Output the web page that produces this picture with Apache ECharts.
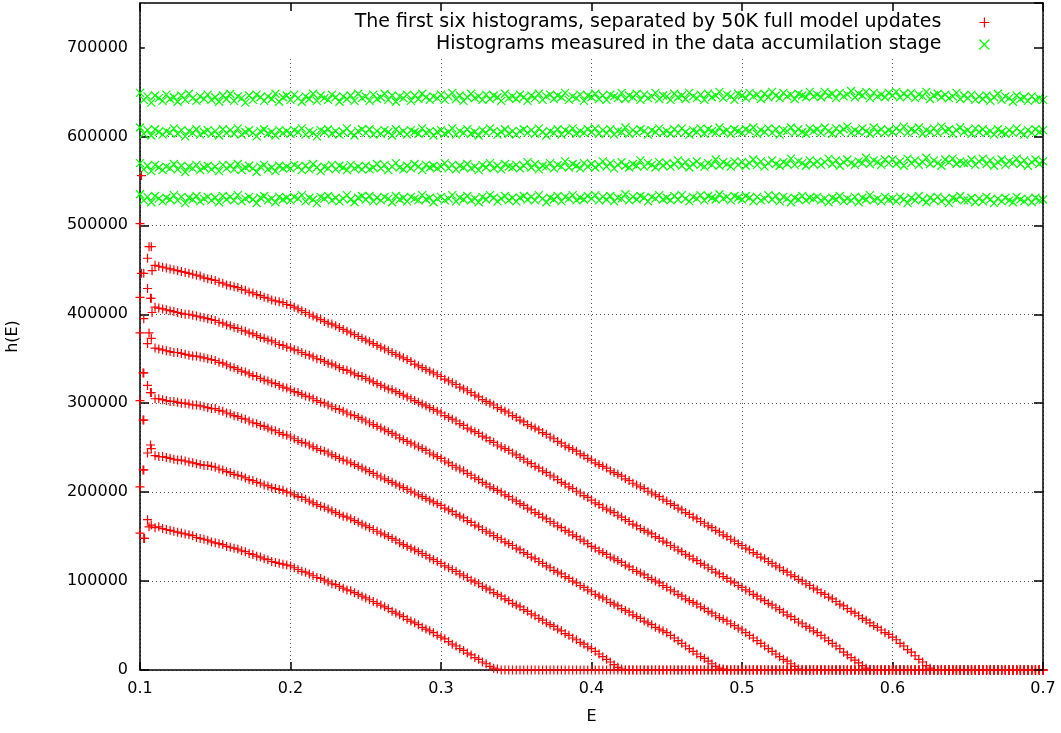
<!DOCTYPE html>
<html>
<head>
<meta charset="utf-8">
<script src="https://cdn.jsdelivr.net/npm/echarts@6/dist/echarts.min.js"></script>
<style>
html,body{margin:0;padding:0;background:#fff;}
#chart{width:1061px;height:733px;}
</style>
</head>
<body>
<div id="chart"></div>
<script>
// Histogram bins: E = E_START + i * E_STEP (i = 0..240), rows of 20 bins = 0.05 in E
const E_START = 0.1;
const E_STEP = 0.0025;

// Six early histograms (h in thousands)
const H1_K = [
154,148,169,163,160,161,159,158,157,156,155,154,153,152,151,149,148,147,146,144,
143,142,141,139,138,137,136,134,133,131,130,128,127,125,124,122,121,120,119,118,
117,115,113,111,110,108,106,104,103,101,99,97,96,94,92,90,89,87,85,83,
81,79,77,75,73,71,69,66,64,62,60,57,55,53,51,48,46,44,42,39,
37,35,32,29,27,24,22,19,17,14,12,9,7,4,2,1,0,0,0,0,
0,0,0,0,0,0,0,0,0,0,0,0,0,0,0,0,0,0,0,0,
0,0,0,0,0,0,0,0,0,0,0,0,0,0,0,0,0,0,0,0,
0,0,0,0,0,0,0,0,0,0,0,0,0,0,0,0,0,0,0,0,
0,0,0,0,0,0,0,0,0,0,0,0,0,0,0,0,0,0,0,0,
0,0,0,0,0,0,0,0,0,0,0,0,0,0,0,0,0,0,0,0,
0,0,0,0,0,0,0,0,0,0,0,0,0,0,0,0,0,0,0,0,
0,0,0,0,0,0,0,0,0,0,0,0,0,0,0,0,0,0,0,0,
0];
const H2_K = [
206,225,244,249,241,240,240,239,238,237,236,236,235,234,233,232,231,230,230,229,
228,226,225,223,222,220,219,218,216,214,213,211,210,208,207,205,204,203,202,200,
199,197,195,194,192,190,188,186,184,183,181,179,177,175,173,172,170,168,166,164,
162,160,158,156,154,152,150,148,146,143,141,139,137,135,133,131,129,126,124,122,
120,117,115,113,111,108,106,104,101,99,97,94,92,90,87,85,83,80,78,75,
73,71,68,66,63,61,58,56,53,51,49,46,44,41,39,36,34,31,29,26,
24,21,18,15,12,9,6,3,1,0,0,0,0,0,0,0,0,0,0,0,
0,0,0,0,0,0,0,0,0,0,0,0,0,0,0,0,0,0,0,0,
0,0,0,0,0,0,0,0,0,0,0,0,0,0,0,0,0,0,0,0,
0,0,0,0,0,0,0,0,0,0,0,0,0,0,0,0,0,0,0,0,
0,0,0,0,0,0,0,0,0,0,0,0,0,0,0,0,0,0,0,0,
0,0,0,0,0,0,0,0,0,0,0,0,0,0,0,0,0,0,0,0,
0];
const H3_K = [
303,281,320,312,305,305,304,303,302,302,301,300,300,299,298,298,297,296,295,294,
294,292,291,289,288,286,285,283,282,280,278,277,275,274,272,270,269,267,265,264,
262,260,258,256,255,253,251,249,247,246,244,242,240,238,236,235,233,231,229,227,
225,223,221,219,217,215,213,211,209,207,205,203,201,199,197,195,193,191,189,187,
185,182,180,178,175,173,171,168,166,163,161,158,156,154,151,149,147,144,142,140,
137,135,132,130,127,125,122,120,117,115,112,110,108,105,103,100,98,95,93,90,
88,85,83,81,79,76,74,72,69,67,65,62,60,58,55,53,51,48,46,44,
42,39,36,33,30,27,24,21,18,15,13,10,7,4,2,1,0,0,0,0,
0,0,0,0,0,0,0,0,0,0,0,0,0,0,0,0,0,0,0,0,
0,0,0,0,0,0,0,0,0,0,0,0,0,0,0,0,0,0,0,0,
0,0,0,0,0,0,0,0,0,0,0,0,0,0,0,0,0,0,0,0,
0,0,0,0,0,0,0,0,0,0,0,0,0,0,0,0,0,0,0,0,
0];
const H4_K = [
379,334,367,373,362,361,360,359,358,357,357,356,355,354,353,353,352,351,350,349,
348,346,345,343,341,340,338,336,335,333,331,330,328,326,325,323,322,320,318,317,
315,313,312,310,308,307,305,303,301,300,298,296,294,293,291,289,287,286,284,282,
280,278,276,274,272,270,268,266,264,261,259,257,255,253,251,249,247,244,242,240,
238,235,233,230,228,226,224,221,219,216,214,211,209,206,204,202,200,197,195,192,
190,187,185,182,180,177,175,172,170,167,165,162,160,157,155,152,150,147,145,142,
139,137,134,132,130,127,125,123,121,118,116,113,111,109,107,104,102,100,98,95,
93,90,88,85,83,80,78,76,74,71,69,66,64,61,59,57,55,52,50,47,
45,42,39,36,33,30,27,24,21,18,15,12,10,7,4,1,0,0,0,0,
0,0,0,0,0,0,0,0,0,0,0,0,0,0,0,0,0,0,0,0,
0,0,0,0,0,0,0,0,0,0,0,0,0,0,0,0,0,0,0,0,
0,0,0,0,0,0,0,0,0,0,0,0,0,0,0,0,0,0,0,0,
0];
const H5_K = [
419,395,429,418,408,407,406,405,404,403,402,401,400,400,399,398,397,396,395,394,
393,391,390,388,387,385,384,382,381,379,378,376,374,373,371,370,368,366,365,363,
362,360,359,357,355,354,352,350,349,347,345,344,342,340,338,337,335,333,331,330,
328,326,324,322,320,318,316,315,313,311,309,307,305,303,301,299,297,295,293,291,
289,286,284,282,280,277,275,272,270,268,266,263,261,258,256,253,251,249,247,244,
242,239,237,234,232,229,227,224,222,219,217,214,211,209,206,204,201,199,196,194,
191,188,186,183,181,179,177,174,172,169,167,164,162,159,157,155,153,150,148,145,
143,140,138,135,133,130,128,125,123,120,118,115,113,110,108,105,103,100,98,95,
93,90,88,85,83,80,78,75,73,70,68,65,62,60,57,54,52,49,47,44,
42,39,36,33,30,27,24,20,17,14,11,8,5,2,0,0,0,0,0,0,
0,0,0,0,0,0,0,0,0,0,0,0,0,0,0,0,0,0,0,0,
0,0,0,0,0,0,0,0,0,0,0,0,0,0,0,0,0,0,0,0,
0];
const H6_K = [
502,446,463,476,455,454,453,452,451,450,449,448,447,446,445,444,443,441,440,439,
438,436,435,433,432,431,430,428,427,425,424,422,421,419,418,416,415,414,413,411,
410,408,406,404,402,400,398,396,394,392,390,389,387,385,383,381,379,377,375,373,
371,369,367,365,363,361,359,357,355,353,351,349,347,344,342,340,338,336,334,332,
330,327,325,323,321,318,316,314,312,309,307,304,302,300,298,295,293,291,289,286,
284,281,279,276,274,272,270,267,265,262,260,257,255,252,250,248,246,243,241,238,
236,233,231,229,227,224,222,220,218,215,213,210,208,206,204,201,199,197,195,192,
190,187,185,182,180,177,175,172,170,167,165,162,160,157,155,152,150,147,145,142,
140,137,135,132,130,127,125,122,120,117,115,112,110,107,105,102,100,97,95,92,
90,87,85,82,80,77,74,72,69,66,64,61,58,56,53,50,48,45,42,40,
37,34,30,27,23,20,16,12,9,5,2,0,0,0,0,0,0,0,0,0,
0,0,0,0,0,0,0,0,0,0,0,0,0,0,0,0,0,0,0,0,
0];
// Extra scattered first-bin points near E = 0.1 ([E, h in thousands])
const RED_EDGE_K = [
[0.101,556],[0.106,476],[0.101,446],[0.108,449],[0.107,418],[0.108,402],[0.106,379],
[0.102,334],[0.107,312],[0.102,281],[0.107,253],[0.102,225],[0.106,161],[0.103,148]];

// Four histograms measured in the data accumulation stage (h in thousands)
const G1_K = [
649,641,645,638,646,643,640,647,642,644,639,646,641,648,643,640,645,642,647,641,
644,639,646,642,648,640,645,643,638,646,641,647,644,640,645,642,648,639,644,646,
641,647,643,639,645,642,648,640,646,643,641,647,644,639,645,642,646,640,648,643,
645,640,647,642,644,648,641,646,639,645,643,647,640,646,642,648,644,641,645,643,
647,641,645,649,642,646,640,644,648,643,645,641,647,642,646,644,640,648,643,645,
642,647,644,640,646,643,648,641,645,647,642,646,644,649,641,645,643,647,640,646,
644,648,642,646,641,647,645,643,649,642,646,644,648,641,647,643,645,649,642,646,
645,641,648,644,646,642,649,645,643,647,641,648,644,646,650,643,647,645,641,648,
646,643,649,645,647,642,648,644,650,646,643,649,645,647,642,648,646,644,650,645,
647,644,650,646,648,643,649,645,647,651,644,648,646,650,643,649,645,647,644,649,
646,650,644,648,645,649,643,647,645,650,642,646,648,644,647,643,645,649,642,646,
643,647,641,645,642,646,640,644,648,641,645,643,639,646,642,644,640,645,641,643,
641];
const G2_K = [
610,603,607,601,608,605,602,606,604,609,603,607,600,606,604,608,602,605,607,603,
606,601,608,604,607,603,609,602,605,607,604,600,606,608,603,605,601,607,604,606,
603,607,605,609,602,606,604,600,607,605,608,603,606,602,605,609,604,601,606,608,
604,608,602,606,603,607,605,601,608,604,606,602,607,605,603,609,604,606,601,605,
607,603,605,609,602,606,604,608,603,605,601,607,604,609,606,602,605,608,603,606,
602,606,608,604,607,603,609,605,601,606,604,608,602,607,605,609,603,606,604,608,
605,609,603,607,604,608,602,606,605,610,603,607,604,608,606,602,607,605,609,604,
606,603,608,604,609,605,602,607,605,609,603,608,606,604,610,605,607,603,608,606,
604,608,606,610,603,607,605,609,604,608,602,607,606,610,604,608,605,603,609,606,
608,604,610,606,603,609,605,608,611,604,607,605,609,606,603,610,605,608,604,607,
605,609,606,611,604,608,606,610,603,607,605,609,604,611,606,608,603,607,610,605,
607,603,609,605,608,604,606,602,608,605,603,607,604,609,605,602,607,604,608,605,
607];
const G3_K = [
570,563,567,561,568,565,562,566,564,569,563,567,560,566,564,568,562,565,567,563,
566,561,568,564,567,563,569,562,565,567,564,560,566,568,563,565,561,567,564,566,
564,568,566,562,567,563,569,565,561,566,564,568,563,567,565,562,568,564,566,563,
567,563,565,569,564,568,562,566,570,565,563,567,564,569,566,562,568,565,567,564,
566,570,564,568,563,567,565,569,564,566,562,568,565,570,564,567,563,569,566,565,
568,564,567,571,565,569,563,567,566,570,564,568,566,572,565,569,567,564,570,566,
569,565,568,572,566,570,564,568,571,567,565,569,567,573,566,570,568,565,571,567,
570,566,569,573,567,571,565,569,572,568,566,570,568,574,567,571,569,566,572,568,
571,567,570,574,568,572,566,570,573,569,567,571,569,575,568,572,570,567,573,569,
572,568,571,575,569,573,567,571,574,570,568,572,570,576,569,573,571,568,574,570,
574,569,572,567,575,570,573,568,571,576,569,573,570,567,574,571,575,569,572,570,
570,574,568,572,575,569,573,567,571,574,568,572,570,575,569,573,567,571,574,569,
572];
const G4_K = [
535,528,532,526,533,530,527,531,529,534,528,532,525,531,529,533,527,530,532,528,
531,526,533,529,532,528,534,527,530,532,529,525,531,533,528,530,526,532,529,531,
528,532,530,534,527,531,529,525,532,530,533,528,531,527,530,534,529,526,531,533,
529,533,527,531,528,532,530,526,533,529,531,527,532,530,528,534,529,531,526,530,
532,528,530,534,527,531,529,533,528,530,526,532,529,534,531,527,530,533,528,531,
527,531,533,529,532,528,534,530,526,531,529,533,527,532,530,534,528,531,529,533,
530,534,528,532,529,533,527,531,530,535,528,532,529,533,531,527,532,530,534,529,
531,528,533,529,534,530,527,532,530,534,528,533,531,529,535,530,532,528,533,531,
529,533,531,527,532,528,530,534,529,533,527,532,530,526,531,529,533,528,531,530,
532,528,530,526,531,529,533,527,530,528,532,526,531,529,534,528,530,527,532,529,
530,527,532,529,525,531,528,533,529,526,531,528,532,527,530,525,531,529,533,528,
528,531,526,530,527,532,529,525,530,527,531,528,526,532,529,527,530,526,531,528,
529];

const RED_NAME = 'The first six histograms, separated by 50K full model updates';
const GREEN_NAME = 'Histograms measured in the data accumilation stage';

function toPairs(arr){ return arr.map((v,i)=>[+(E_START + i*E_STEP).toFixed(4), v*1000]); }
const redData = [].concat(
  toPairs(H1_K), toPairs(H2_K), toPairs(H3_K), toPairs(H4_K), toPairs(H5_K), toPairs(H6_K),
  RED_EDGE_K.map(p=>[p[0], p[1]*1000]));
const greenData = [].concat(toPairs(G1_K), toPairs(G2_K), toPairs(G3_K), toPairs(G4_K));

const PLUS = 'path://M0,5L10,5M5,0L5,10';
const CROSS = 'path://M0,0L10,10M10,0L0,10';
const FONT = 'DejaVu Sans';

const chart = echarts.init(document.getElementById('chart'), null, {renderer:'canvas'});
const gridLine = {show:true, lineStyle:{color:'#555', width:1, type:[1,3]}};
chart.setOption({
  animation:false,
  backgroundColor:'#fff',
  grid:{left:140, right:18, top:3, bottom:63, containLabel:false, outerBoundsMode:'none'},
  legend:{
    orient:'vertical', right:18, top:3, align:'right',
    padding:[10,53,4,210], itemGap:3, itemWidth:10, itemHeight:10,
    backgroundColor:'#fff', z:4,
    textStyle:{fontFamily:FONT, fontSize:19, color:'#000',
      rich:{a:{width:640, align:'right', padding:[0,33,0,0], fontFamily:FONT, fontSize:19, color:'#000'}}},
    formatter: n => '{a|' + n + '}',
    data:[
      {name:RED_NAME, icon:PLUS, itemStyle:{color:'#f00', borderColor:'#f00', borderWidth:1.2}},
      {name:GREEN_NAME, icon:CROSS, itemStyle:{color:'#0f0', borderColor:'#0f0', borderWidth:1.2}}
    ]
  },
  xAxis:[{
    type:'value', min:0.1, max:0.7, interval:0.1,
    name:'E', nameLocation:'middle', nameGap:39,
    nameTextStyle:{fontFamily:FONT, fontSize:16, color:'#000'},
    axisLine:{show:true, onZero:false, lineStyle:{color:'#000', width:1.5}},
    axisTick:{show:true, inside:true, length:8, lineStyle:{color:'#000', width:1.5}},
    axisLabel:{fontFamily:FONT, fontSize:16, color:'#000', margin:11, formatter:v=>v.toFixed(1)},
    splitLine:gridLine
  },{
    type:'value', position:'top', min:0.1, max:0.7, interval:0.1, z:10,
    axisLine:{show:true, onZero:false, lineStyle:{color:'#000', width:1.5}},
    axisTick:{show:true, inside:true, length:8, lineStyle:{color:'#000', width:1.5}},
    axisLabel:{show:false}, splitLine:{show:false}
  }],
  yAxis:[{
    type:'value', min:0, max:750000, interval:100000,
    name:'h(E)', nameLocation:'middle', nameGap:119, nameRotate:90,
    nameTextStyle:{fontFamily:FONT, fontSize:16, color:'#000'},
    axisLine:{show:true, onZero:false, lineStyle:{color:'#000', width:1.5}},
    axisTick:{show:true, inside:true, length:9, lineStyle:{color:'#000', width:1.5}},
    axisLabel:{fontFamily:FONT, fontSize:16, color:'#000', margin:12, showMaxLabel:false, formatter:v=>String(v)},
    splitLine:gridLine
  },{
    type:'value', position:'right', min:0, max:750000, interval:100000, z:10,
    axisLine:{show:true, onZero:false, lineStyle:{color:'#000', width:1.5}},
    axisTick:{show:true, inside:true, length:9, lineStyle:{color:'#000', width:1.5}},
    axisLabel:{show:false}, splitLine:{show:false}
  }],
  series:[{
    name:RED_NAME, type:'scatter', xAxisIndex:0, yAxisIndex:0,
    symbol:PLUS, symbolSize:9, data:redData, z:3,
    itemStyle:{color:'#f00', borderColor:'#f00', borderWidth:1.2, opacity:1}
  },{
    name:GREEN_NAME, type:'scatter', xAxisIndex:0, yAxisIndex:0,
    symbol:CROSS, symbolSize:8, data:greenData, z:2,
    itemStyle:{color:'#0f0', borderColor:'#0f0', borderWidth:1.2, opacity:1}
  }]
});
</script>
</body>
</html>
